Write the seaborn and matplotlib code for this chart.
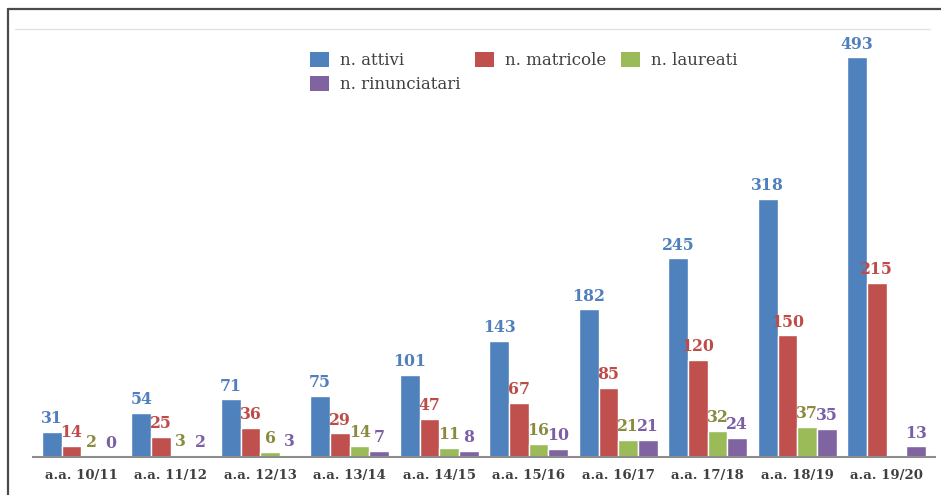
import numpy as np
import pandas as pd
import matplotlib
matplotlib.use("Agg")
import matplotlib.pyplot as plt
import seaborn as sns
from matplotlib.lines import Line2D
from matplotlib.patches import Patch

categories = ["a.a. 10/11", "a.a. 11/12", "a.a. 12/13", "a.a. 13/14", "a.a. 14/15",
              "a.a. 15/16", "a.a. 16/17", "a.a. 17/18", "a.a. 18/19", "a.a. 19/20"]
attivi = [31, 54, 71, 75, 101, 143, 182, 245, 318, 493]
matricole = [14, 25, 36, 29, 47, 67, 85, 120, 150, 215]
laureati = [2, 3, 6, 14, 11, 16, 21, 32, 37, np.nan]
rinunciatari = [0, 2, 3, 7, 8, 10, 21, 24, 35, 13]
series_names = ["n. attivi", "n. matricole", "n. laureati", "n. rinunciatari"]

bar_colors = ["#4F81BD", "#C0504D", "#9BBB59", "#8064A2"]
label_colors = ["#4F7FBC", "#BE4B48", "#8A8A40", "#7A5FA6"]

rows = []
for name, vals in zip(series_names, [attivi, matricole, laureati, rinunciatari]):
    for c, v in zip(categories, vals):
        rows.append({"cat": c, "serie": name, "val": v})
df = pd.DataFrame(rows)

sns.set_style("white")
plt.rcParams["font.family"] = ["DejaVu Serif"]

fig = plt.figure(figsize=(9.41, 4.95), dpi=100)
W, H = 941, 495
ax = fig.add_axes([33 / W, 38 / H, (935 - 33) / W, (466 - 38) / H])

sns.barplot(data=df, x="cat", y="val", hue="serie", order=categories,
            hue_order=series_names, palette=bar_colors, width=0.88,
            saturation=1, ax=ax, legend=False, errorbar=None)

for cont, col in zip(ax.containers, label_colors):
    for bar in cont:
        if bar is None:
            continue
        h = bar.get_height()
        if h is None or np.isnan(h):
            continue
        ax.annotate(f"{int(round(h))}", (bar.get_x() + bar.get_width() / 2, h),
                    xytext=(0, 3.5), textcoords="offset points", ha="center", va="bottom",
                    color=col, fontsize=11.3, fontweight="bold", family="DejaVu Serif")

ax.set_ylim(0, 528)
ax.set_xlim(-0.54, 9.54)
ax.set_xlabel("")
ax.set_ylabel("")
ax.set_yticks([])
for s in ["top", "right", "left"]:
    ax.spines[s].set_visible(False)
ax.spines["bottom"].set_color("#8C8C8C")
ax.spines["bottom"].set_linewidth(1.5)
ax.tick_params(axis="x", length=0, pad=9)
for t in ax.get_xticklabels():
    t.set_fontweight("bold")
    t.set_fontsize(9.5)
    t.set_color("#3F3F3F")

handles = [Patch(facecolor=c, edgecolor="none") for c in bar_colors]
order = [0, 3, 1, 2]
leg = fig.legend([handles[i] for i in order], [series_names[i] for i in order],
                 ncol=3, loc="upper left", bbox_to_anchor=(310 / W, 1 - 52 / H),
                 frameon=False, fontsize=12, handlelength=1.14, handleheight=1.0,
                 handletextpad=0.65, columnspacing=0.9, labelspacing=0.42,
                 borderaxespad=0, borderpad=0)
for t in leg.get_texts():
    t.set_color("#404040")

# outer frame and top gridline
fig.add_artist(Line2D([8 / W, 1.0], [1 - 9 / H, 1 - 9 / H], color="#4A4A4A", lw=1.6))
fig.add_artist(Line2D([8 / W, 8 / W], [0, 1 - 9 / H], color="#4A4A4A", lw=1.6))
fig.add_artist(Line2D([15 / W, 930 / W], [1 - 29 / H, 1 - 29 / H], color="#E3E3E3", lw=1.0))

fig.savefig("out.png", dpi=100)
